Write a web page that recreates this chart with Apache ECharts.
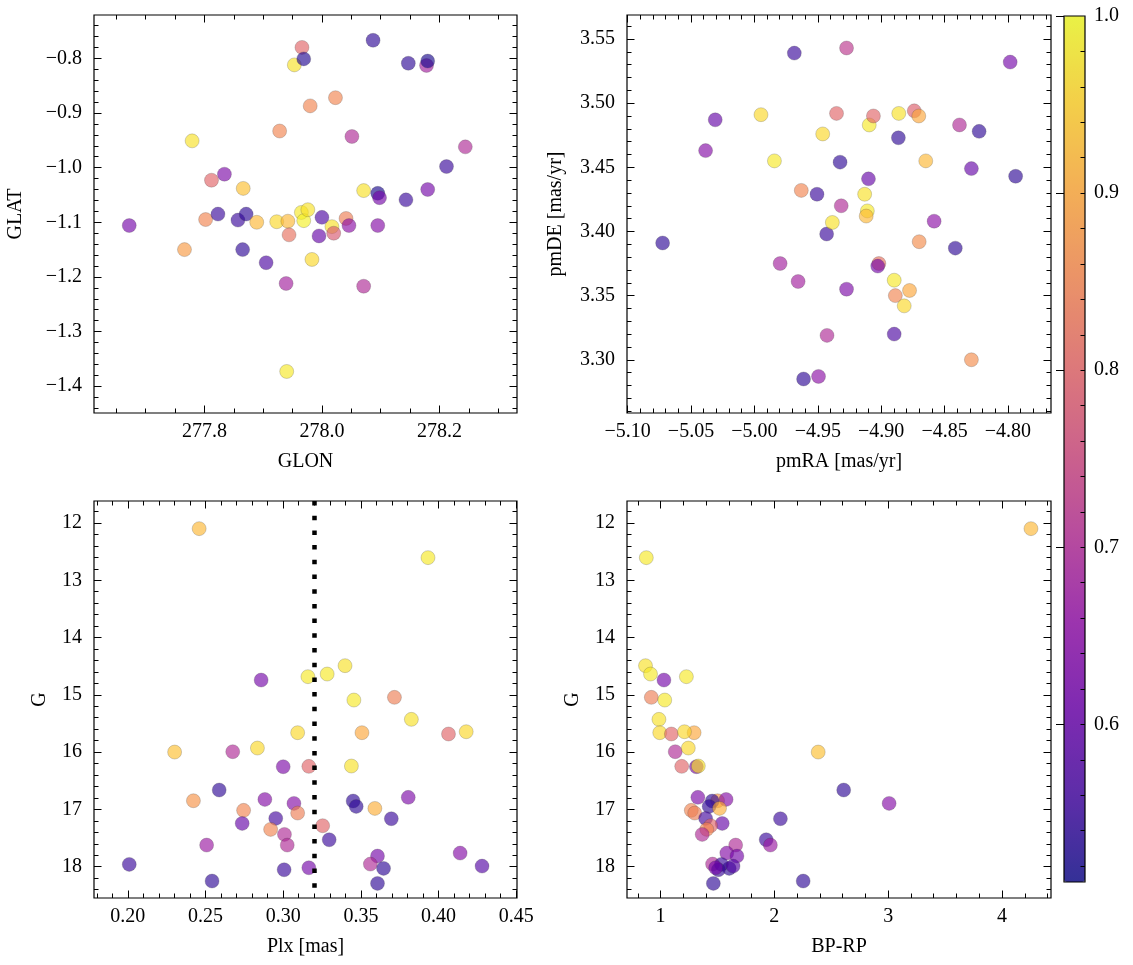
<!DOCTYPE html>
<html><head><meta charset="utf-8">
<script src="https://cdn.jsdelivr.net/npm/echarts@6/dist/echarts.min.js"></script>
<style>html,body{margin:0;padding:0;background:#fff}#c{width:1133px;height:965px}</style>
</head><body><div id="c"></div><script>
// ---------- data ----------
const glon = [277.672, 277.766, 277.779, 277.802, 277.812, 277.823, 277.834, 277.857, 277.865, 277.866, 277.871, 277.889, 277.905, 277.923, 277.928, 277.939, 277.942, 277.944, 277.940, 277.953, 277.966, 277.969, 277.965, 277.969, 277.976, 277.980, 277.983, 277.995, 278.000, 278.017, 278.020, 278.023, 278.041, 278.046, 278.051, 278.071, 278.071, 278.087, 278.095, 278.098, 278.095, 278.143, 278.147, 278.178, 278.180, 278.180, 278.212, 278.244];
const glat = [-1.106, -1.150, -0.951, -1.095, -1.023, -1.085, -1.012, -1.096, -1.150, -1.038, -1.085, -1.100, -1.174, -1.099, -0.933, -1.212, -1.098, -1.123, -1.373, -0.812, -0.780, -0.801, -1.082, -1.097, -1.077, -0.887, -1.168, -1.125, -1.091, -1.108, -1.120, -0.872, -1.093, -1.106, -0.943, -1.042, -1.217, -0.767, -1.047, -1.055, -1.106, -1.059, -0.809, -0.813, -0.805, -1.040, -0.998, -0.962];
const probSky = [0.62, 0.88, 0.97, 0.85, 0.80, 0.55, 0.63, 0.55, 0.54, 0.93, 0.54, 0.92, 0.57, 0.96, 0.85, 0.68, 0.92, 0.82, 0.98, 0.97, 0.80, 0.53, 0.98, 0.99, 0.97, 0.85, 0.96, 0.60, 0.57, 0.97, 0.78, 0.85, 0.84, 0.65, 0.70, 0.97, 0.70, 0.54, 0.52, 0.62, 0.64, 0.55, 0.54, 0.68, 0.52, 0.62, 0.55, 0.70];

const pmra = [-5.0724, -5.0385, -5.0309, -4.9948, -4.9842, -4.9797, -4.9685, -4.9655, -4.9630, -4.9506, -4.9612, -4.9494, -4.9461, -4.9430, -4.9427, -4.9385, -4.9352, -4.9324, -4.9315, -4.9273, -4.9273, -4.9130, -4.9109, -4.9118, -4.9100, -4.9094, -4.9061, -4.9018, -4.9027, -4.8897, -4.8888, -4.8897, -4.8864, -4.8861, -4.8818, -4.8776, -4.8739, -4.8703, -4.8700, -4.8648, -4.8582, -4.8415, -4.8382, -4.8288, -4.8288, -4.8227, -4.7982, -4.7939];
const pmde = [3.391, 3.463, 3.487, 3.491, 3.455, 3.375, 3.539, 3.361, 3.432, 3.429, 3.285, 3.287, 3.476, 3.398, 3.319, 3.407, 3.492, 3.454, 3.420, 3.543, 3.355, 3.429, 3.416, 3.412, 3.441, 3.483, 3.490, 3.375, 3.373, 3.362, 3.350, 3.320, 3.473, 3.492, 3.342, 3.354, 3.494, 3.490, 3.392, 3.455, 3.408, 3.387, 3.483, 3.449, 3.300, 3.478, 3.532, 3.443];
const probPM = [0.54, 0.64, 0.60, 0.96, 0.98, 0.68, 0.55, 0.68, 0.85, 0.55, 0.54, 0.65, 0.96, 0.55, 0.70, 0.97, 0.80, 0.54, 0.70, 0.72, 0.63, 0.97, 0.98, 0.92, 0.60, 0.98, 0.80, 0.82, 0.62, 0.98, 0.85, 0.57, 0.54, 0.97, 0.96, 0.90, 0.79, 0.90, 0.86, 0.92, 0.65, 0.54, 0.70, 0.60, 0.86, 0.54, 0.62, 0.54];

const plx = [0.2459, 0.3932, 0.3398, 0.3283, 0.3159, 0.2858, 0.3716, 0.3455, 0.3825, 0.3093, 0.3507, 0.4064, 0.4178, 0.2301, 0.2675, 0.2834, 0.3000, 0.3165, 0.3439, 0.2588, 0.2422, 0.2882, 0.3069, 0.3450, 0.3470, 0.3590, 0.3805, 0.2745, 0.3093, 0.2952, 0.3696, 0.2736, 0.3254, 0.2919, 0.3008, 0.3296, 0.2507, 0.3026, 0.4139, 0.3607, 0.3561, 0.3646, 0.2009, 0.4280, 0.3006, 0.3165, 0.2542, 0.3607];
const bprp = [4.254, 0.875, 0.868, 0.912, 1.227, 1.030, 0.919, 1.037, 0.986, 0.993, 1.295, 1.095, 1.210, 2.385, 1.129, 1.244, 1.315, 1.186, 1.332, 2.609, 1.501, 1.576, 3.008, 1.454, 1.427, 1.518, 1.328, 1.270, 1.300, 1.396, 2.053, 1.542, 1.440, 1.406, 1.366, 1.928, 1.965, 1.660, 1.582, 1.671, 1.457, 1.603, 1.535, 1.637, 1.508, 1.484, 2.253, 1.464];
const gmag = [12.099, 12.605, 14.491, 14.637, 14.683, 14.742, 15.044, 15.091, 15.428, 15.661, 15.661, 15.684, 15.644, 15.999, 15.993, 15.929, 16.255, 16.249, 16.243, 16.662, 16.849, 16.826, 16.895, 16.854, 16.948, 16.983, 16.790, 17.017, 17.064, 17.157, 17.163, 17.245, 17.285, 17.349, 17.437, 17.530, 17.623, 17.623, 17.763, 17.815, 17.955, 18.030, 17.960, 17.990, 18.054, 18.019, 18.251, 18.292];
const probCMD = [0.92, 0.98, 0.97, 0.98, 0.98, 0.62, 0.84, 0.98, 0.97, 0.96, 0.90, 0.80, 0.96, 0.93, 0.70, 0.96, 0.63, 0.80, 0.97, 0.54, 0.87, 0.64, 0.64, 0.54, 0.54, 0.91, 0.63, 0.85, 0.84, 0.56, 0.55, 0.60, 0.80, 0.85, 0.70, 0.55, 0.67, 0.70, 0.64, 0.62, 0.70, 0.54, 0.55, 0.58, 0.55, 0.62, 0.54, 0.54];

const plxLine = 0.3167;

// tick labels
const glonTicks = [277.8, 278.0, 278.2];
const glatTicks = [-0.8, -0.9, -1.0, -1.1, -1.2, -1.3, -1.4];
const pmraTicks = [-5.10, -5.05, -5.00, -4.95, -4.90, -4.85, -4.80];
const pmdeTicks = [3.30, 3.35, 3.40, 3.45, 3.50, 3.55];
const plxTicks = [0.20, 0.25, 0.30, 0.35, 0.40, 0.45];
const gTicks = [12, 13, 14, 15, 16, 17, 18];
const bprpTicks = [1, 2, 3, 4];
const probTicks = [0.6, 0.7, 0.8, 0.9, 1.0];
const probMin = 0.511, probMax = 1.0;

// plasma colormap stops
const plasma = ['#0d0887','#41049d','#6a00a8','#8f0da4','#b12a90','#cc4778','#e16462','#f2844b','#fca636','#fcce25','#f0f921'];

// ---------- styling / layout ----------
const FONT = 'Liberation Serif';
const FS = 20;
const ALPHA = 0.8;
function rgba(hex, a){ const n = parseInt(hex.slice(1),16); return 'rgba('+(n>>16)+','+((n>>8)&255)+','+(n&255)+','+a+')'; }
function fmt(v, d){ return Number(v).toFixed(d).replace('-', '\u2212'); }
function steps(min, max, step){ const out=[]; for(let k=Math.ceil(min/step-1e-9); k*step<=max+1e-9; k++){ out.push(+(k*step).toFixed(6)); } return out; }

const panels = [
  {grid:{left:94, top:15, width:423, height:398},
   x:{min:277.612, max:278.332, ticks:glonTicks, minor:0.05, dec:1, name:'GLON', gap:39},
   y:{min:-1.449, max:-0.7207, ticks:glatTicks, minor:0.02, dec:1, name:'GLAT', gap:68},
   xs:glon, ys:glat, ps:probSky},
  {grid:{left:627, top:15, width:424, height:398},
   x:{min:-5.1005, max:-4.766, ticks:pmraTicks, minor:0.01, dec:2, name:'pmRA [mas/yr]', gap:39},
   y:{min:3.2585, max:3.5687, ticks:pmdeTicks, minor:0.01, dec:2, name:'pmDE [mas/yr]', gap:61},
   xs:pmra, ys:pmde, ps:probPM},
  {grid:{left:94, top:501, width:423, height:397},
   x:{min:0.1782, max:0.4505, ticks:plxTicks, minor:0.01, dec:2, name:'Plx [mas]', gap:39},
   y:{min:11.616, max:18.547, ticks:gTicks, minor:0.2, dec:0, name:'G', gap:44, inverse:true},
   xs:plx, ys:gmag, ps:probCMD, vline:plxLine},
  {grid:{left:627, top:501, width:424, height:397},
   x:{min:0.7054, max:4.43, ticks:bprpTicks, minor:0.2, dec:0, name:'BP-RP', gap:39},
   y:{min:11.616, max:18.547, ticks:gTicks, minor:0.2, dec:0, name:'G', gap:44, inverse:true},
   xs:bprp, ys:gmag, ps:probCMD}
];

const MAJ = 7.5, MIN = 4.5;
const grids = [], xAxes = [], yAxes = [], series = [];
const txt = {fontFamily: FONT, fontSize: FS, color: '#000'};

function axisSet(kind, gi, a){
  const sides = kind === 'x' ? ['bottom','top'] : ['left','right'];
  const minorVals = steps(a.min, a.max, a.minor);
  const list = [];
  sides.forEach((pos, si) => {
    list.push({
      type:'value', gridIndex:gi, position:pos, min:a.min, max:a.max, inverse:!!a.inverse,
      axisLine:{show:false}, splitLine:{show:false},
      axisTick:{show:true, inside:true, length:MAJ, customValues:a.ticks, lineStyle:{color:'#000', width:1}},
      axisLabel: si === 0 ? Object.assign({show:true, customValues:a.ticks, margin: kind==='x'?9:12, formatter:v=>fmt(v,a.dec)}, txt) : {show:false},
      name: si === 0 ? a.name : '', nameLocation:'middle', nameGap:a.gap, nameTextStyle: txt
    });
    list.push({
      type:'value', gridIndex:gi, position:pos, min:a.min, max:a.max, inverse:!!a.inverse,
      axisLine:{show:false}, splitLine:{show:false},
      axisTick:{show:true, inside:true, length:MIN, customValues:minorVals, lineStyle:{color:'#000', width:1}},
      axisLabel:{show:false}
    });
  });
  return list;
}

panels.forEach((p, gi) => {
  grids.push(Object.assign({show:true, borderColor:'#000', borderWidth:1.2, backgroundColor:'transparent', containLabel:false}, p.grid));
  const xi = xAxes.length, yi = yAxes.length;
  xAxes.push(...axisSet('x', gi, p.x));
  yAxes.push(...axisSet('y', gi, p.y));
  const s = {
    type:'scatter', xAxisIndex:xi, yAxisIndex:yi, symbol:'circle', symbolSize:14,
    itemStyle:{borderColor:'rgba(60,60,60,0.55)', borderWidth:0.5},
    emphasis:{disabled:true}, silent:true,
    data: p.xs.map((x, i) => [x, p.ys[i], p.ps[i]])
  };
  if (p.vline !== undefined) {
    s.markLine = {silent:true, symbol:['none','none'], label:{show:false}, animation:false,
      lineStyle:{color:'#000', width:4.5, type:[4.5, 10.2], cap:'butt'}, data:[{xAxis:p.vline}]};
  }
  series.push(s);
});

// colorbar grid (index 4)
const cb = {left:1064, top:16, width:21, height:866};
grids.push(Object.assign({show:true, borderColor:'#000', borderWidth:1.2, backgroundColor:'transparent', z:10}, cb));
xAxes.push({type:'value', gridIndex:4, min:0, max:1, show:false});
yAxes.push({type:'value', gridIndex:4, position:'right', min:probMin, max:probMax, z:10,
  axisLine:{show:false}, splitLine:{show:false},
  axisTick:{show:true, inside:true, length:8, customValues:probTicks, lineStyle:{color:'#000', width:1}},
  axisLabel:Object.assign({show:true, customValues:probTicks, margin:9, formatter:v=>fmt(v,1)}, txt)});
yAxes.push({type:'value', gridIndex:4, position:'right', min:probMin, max:probMax, z:10,
  axisLine:{show:false}, splitLine:{show:false},
  axisTick:{show:true, inside:true, length:4.5, customValues:steps(probMin, probMax-0.001, 0.02), lineStyle:{color:'#000', width:1}},
  axisLabel:{show:false}});

const option = {
  animation:false,
  backgroundColor:'#fff',
  grid: grids, xAxis: xAxes, yAxis: yAxes, series: series,
  visualMap: {
    type:'continuous', min:probMin, max:probMax, dimension:2, seriesIndex:[0,1,2,3],
    calculable:false, hoverLink:false, orient:'vertical', padding:0,
    left:cb.left, top:cb.top, itemWidth:cb.width, itemHeight:cb.height,
    inRange:{color: plasma.map(c => rgba(c, ALPHA))},
    textStyle: txt
  }
};

const chart = echarts.init(document.getElementById('c'), null, {renderer:'canvas'});
chart.setOption(option);
</script></body></html>
